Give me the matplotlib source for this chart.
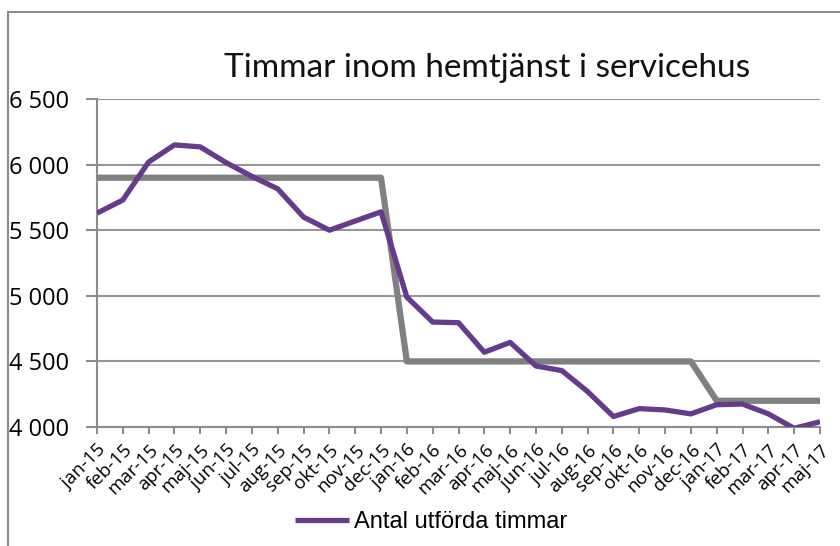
import matplotlib.pyplot as plt
from matplotlib.patches import Rectangle

# Monthly labels and values
months = ['jan-15', 'feb-15', 'mar-15', 'apr-15', 'maj-15', 'jun-15', 'jul-15',
          'aug-15', 'sep-15', 'okt-15', 'nov-15', 'dec-15',
          'jan-16', 'feb-16', 'mar-16', 'apr-16', 'maj-16', 'jun-16', 'jul-16',
          'aug-16', 'sep-16', 'okt-16', 'nov-16', 'dec-16',
          'jan-17', 'feb-17', 'mar-17', 'apr-17', 'maj-17']
utforda = [5630, 5730, 6020, 6150, 6135, 6015, 5910, 5815, 5600, 5500, 5570, 5640,
           4990, 4800, 4795, 4570, 4645, 4465, 4430, 4270, 4080, 4140, 4130, 4100,
           4170, 4175, 4100, 3990, 4040]
budget = [5900] * 12 + [4500] * 12 + [4200] * 5
yticks = [4000, 4500, 5000, 5500, 6000, 6500]
ytick_labels = ['4 000', '4 500', '5 000', '5 500', '6 000', '6 500']

purple = '#663a8c'
gray = '#808080'

fig = plt.figure(figsize=(8.4, 5.46), dpi=100)
ax = fig.add_axes([97 / 840, 1 - 427 / 546, (820 - 97) / 840, (427 - 99) / 546])

x = list(range(len(months)))
ax.plot(x, budget, color=gray, lw=4.5, solid_capstyle='butt', zorder=3)
ax.plot(x, utforda, color=purple, lw=3.8, solid_capstyle='butt', zorder=4,
        label='Antal utförda timmar')

ax.set_xlim(0, len(months) - 1)
ax.set_ylim(4000, 6500)
ax.set_yticks(yticks)
ax.set_yticklabels(ytick_labels, fontsize=17, family='Open Sans')
ax.set_xticks(x)
ax.set_xticklabels(months, rotation=45, ha='right', rotation_mode='anchor',
                   fontsize=13.5, family='Open Sans')
ax.tick_params(axis='y', length=8, width=1.5, color='#8c8c8c', pad=12)
ax.tick_params(axis='x', length=5, width=1.5, color='#8c8c8c', pad=5)
ax.grid(axis='y', color='#969696', lw=1.5, zorder=1)
for side in ['top', 'right']:
    ax.spines[side].set_visible(False)
for side in ['left', 'bottom']:
    ax.spines[side].set_color('#8c8c8c')
    ax.spines[side].set_linewidth(1.5)

fig.text(487 / 840, 1 - 68 / 546, 'Timmar inom hemtjänst i servicehus',
         ha='center', va='center', fontsize=24, family='Lato', color='#111111')

fig.legend(loc='center', bbox_to_anchor=(431 / 840, 1 - 522 / 546), frameon=False,
           prop={'family': 'Liberation Sans', 'size': 17}, handlelength=2.3,
           handletextpad=0.2)

# outer chart border, open at right and bottom like the cropped original
fig.patches.append(Rectangle((8 / 840, -0.1), 1.2, 1 - 12 / 546 + 0.1,
                             transform=fig.transFigure, fill=False,
                             edgecolor='#8c8c8c', lw=1.5))

fig.savefig('out.png', dpi=100)
